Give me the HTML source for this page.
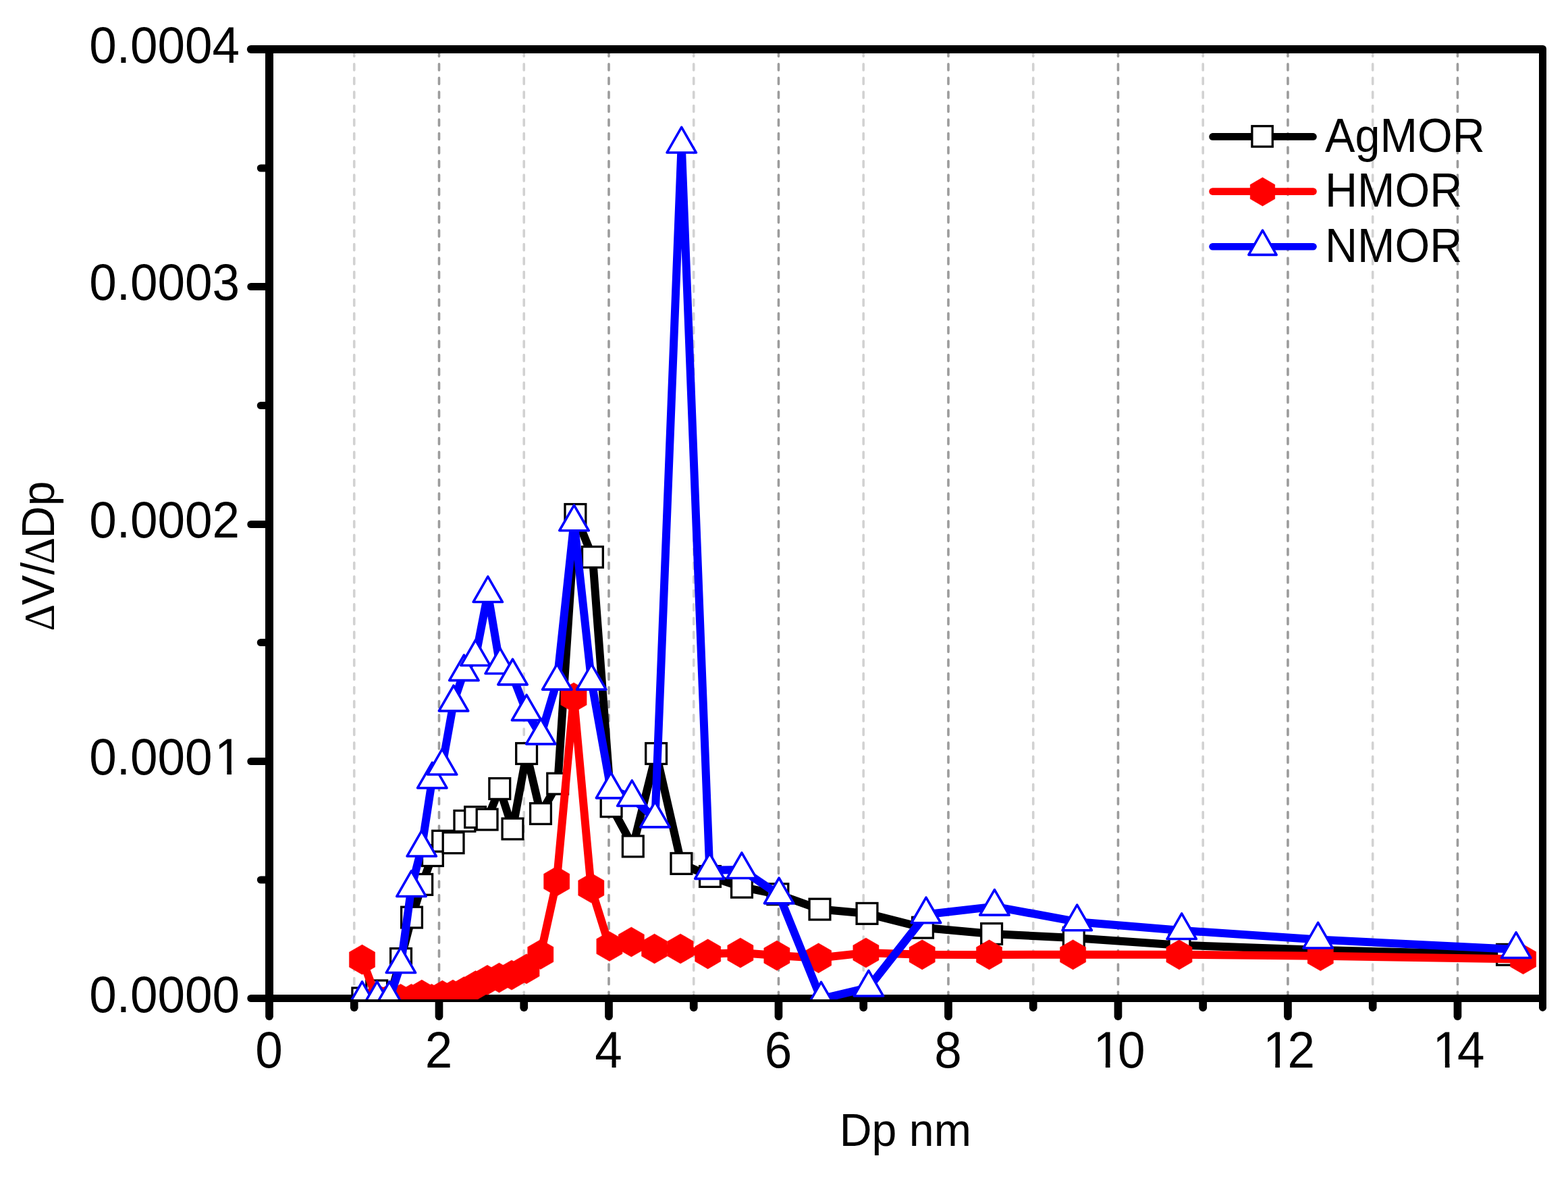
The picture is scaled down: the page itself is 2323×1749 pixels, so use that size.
<!DOCTYPE html>
<html lang="en">
<head>
<meta charset="utf-8">
<title>Pore size distribution</title>
<style>
html,body{margin:0;padding:0;background:#fff;}
body{width:2323px;height:1749px;overflow:hidden;}
svg{display:block;}
text{font-family:"Liberation Sans",sans-serif;fill:#000;}
.tk{font-size:72px;}
.ti{font-size:66.3px;}
.lg{font-size:66.6px;}
.sy{font-family:"Liberation Serif",serif;font-size:61.5px;}
</style>
</head>
<body>
<svg width="2323" height="1749" viewBox="0 0 2323 1749">
<rect x="0" y="0" width="2323" height="1749" fill="#fff"/>
<defs><clipPath id="plot"><rect x="399" y="73" width="1886.2" height="1407"/></clipPath><clipPath id="cx1"><path d="M3 -60H85V5H41.6V-6.4H28.75V1H22.15V-6.4H3Z"/></clipPath><clipPath id="cy1"><path d="M-2 -60H225V-6.4H208.25V1H201.65V-6.4H182V5H-2Z"/></clipPath></defs>
<g fill="none" stroke-width="3.6" stroke-linecap="round" stroke-dasharray="9.1 11.41">
<line x1="524.75" y1="74.4" x2="524.75" y2="1478.7" stroke="#d2d2d2"/>
<line x1="650.49" y1="74.4" x2="650.49" y2="1478.7" stroke="#9c9c9c"/>
<line x1="776.24" y1="74.4" x2="776.24" y2="1478.7" stroke="#d2d2d2"/>
<line x1="901.99" y1="74.4" x2="901.99" y2="1478.7" stroke="#9c9c9c"/>
<line x1="1027.73" y1="74.4" x2="1027.73" y2="1478.7" stroke="#d2d2d2"/>
<line x1="1153.48" y1="74.4" x2="1153.48" y2="1478.7" stroke="#9c9c9c"/>
<line x1="1279.23" y1="74.4" x2="1279.23" y2="1478.7" stroke="#d2d2d2"/>
<line x1="1404.97" y1="74.4" x2="1404.97" y2="1478.7" stroke="#9c9c9c"/>
<line x1="1530.72" y1="74.4" x2="1530.72" y2="1478.7" stroke="#d2d2d2"/>
<line x1="1656.47" y1="74.4" x2="1656.47" y2="1478.7" stroke="#9c9c9c"/>
<line x1="1782.21" y1="74.4" x2="1782.21" y2="1478.7" stroke="#d2d2d2"/>
<line x1="1907.96" y1="74.4" x2="1907.96" y2="1478.7" stroke="#9c9c9c"/>
<line x1="2033.71" y1="74.4" x2="2033.71" y2="1478.7" stroke="#d2d2d2"/>
<line x1="2159.45" y1="74.4" x2="2159.45" y2="1478.7" stroke="#9c9c9c"/>
</g>
<g fill="none" stroke="#000" stroke-linecap="butt">
<line x1="399" y1="67" x2="399" y2="1484" stroke-width="12"/>
<line x1="393" y1="73" x2="2285.5" y2="73" stroke-width="12"/>
<line x1="2285.5" y1="72.5" x2="2285.5" y2="1484" stroke-width="11"/>
<line x1="393" y1="1478.5" x2="2291" y2="1478.5" stroke-width="11"/>
<circle cx="2285.5" cy="72.5" r="5.5" fill="#000" stroke="none"/>
</g>
<g fill="none" stroke="#000" stroke-linecap="round">
<line x1="399" y1="1478.5" x2="399" y2="1505.2" stroke-width="11.7"/>
<line x1="524.75" y1="1478.5" x2="524.75" y2="1492.2" stroke-width="11.7"/>
<line x1="650.49" y1="1478.5" x2="650.49" y2="1505.2" stroke-width="11.7"/>
<line x1="776.24" y1="1478.5" x2="776.24" y2="1492.2" stroke-width="11.7"/>
<line x1="901.99" y1="1478.5" x2="901.99" y2="1505.2" stroke-width="11.7"/>
<line x1="1027.73" y1="1478.5" x2="1027.73" y2="1492.2" stroke-width="11.7"/>
<line x1="1153.48" y1="1478.5" x2="1153.48" y2="1505.2" stroke-width="11.7"/>
<line x1="1279.23" y1="1478.5" x2="1279.23" y2="1492.2" stroke-width="11.7"/>
<line x1="1404.97" y1="1478.5" x2="1404.97" y2="1505.2" stroke-width="11.7"/>
<line x1="1530.72" y1="1478.5" x2="1530.72" y2="1492.2" stroke-width="11.7"/>
<line x1="1656.47" y1="1478.5" x2="1656.47" y2="1505.2" stroke-width="11.7"/>
<line x1="1782.21" y1="1478.5" x2="1782.21" y2="1492.2" stroke-width="11.7"/>
<line x1="1907.96" y1="1478.5" x2="1907.96" y2="1505.2" stroke-width="11.7"/>
<line x1="2033.71" y1="1478.5" x2="2033.71" y2="1492.2" stroke-width="11.7"/>
<line x1="2159.45" y1="1478.5" x2="2159.45" y2="1505.2" stroke-width="11.7"/>
<line x1="2285.5" y1="1478.5" x2="2285.5" y2="1492.2" stroke-width="11"/>
<line x1="399" y1="1478.5" x2="371.8" y2="1478.5" stroke-width="11"/>
<line x1="399" y1="1303" x2="386.3" y2="1303" stroke-width="11"/>
<line x1="399" y1="1127.5" x2="371.8" y2="1127.5" stroke-width="11"/>
<line x1="399" y1="951.5" x2="386.3" y2="951.5" stroke-width="11"/>
<line x1="399" y1="776.5" x2="371.8" y2="776.5" stroke-width="11"/>
<line x1="399" y1="600.5" x2="386.3" y2="600.5" stroke-width="11"/>
<line x1="399" y1="424.5" x2="371.8" y2="424.5" stroke-width="11"/>
<line x1="399" y1="249" x2="386.3" y2="249" stroke-width="11"/>
<line x1="399" y1="73" x2="371.8" y2="73" stroke-width="12"/>
</g>
<g clip-path="url(#plot)" stroke-linejoin="round">
<polyline fill="none" stroke="#000" stroke-width="12" stroke-linejoin="round" points="537.3,1478.4 558.2,1467.4 577,1479 594,1420 610,1358.6 625.2,1309.9 640.9,1267.1 656.1,1245.7 671.6,1248.2 688.4,1215.9 704.1,1210.2 721.6,1213.6 740.3,1168 759.5,1227.5 780.1,1116 801,1205 826.2,1160.6 852.4,762 877.9,825 905.6,1194.2 937.8,1253.4 972.1,1116 1009.4,1278.9 1052,1298 1099,1313.7 1152.4,1324.3 1214.5,1346.6 1284.5,1352.9 1367,1373.7 1469.1,1383 1590.8,1389 1747.5,1399.7 1955,1407 2233,1413.8"/>
<g fill="#fff" stroke="#000" stroke-width="3.3" stroke-linejoin="miter">
<rect x="521.9" y="1463" width="30.8" height="30.8"/>
<rect x="542.8" y="1452" width="30.8" height="30.8"/>
<rect x="561.6" y="1463.6" width="30.8" height="30.8"/>
<rect x="578.6" y="1404.6" width="30.8" height="30.8"/>
<rect x="594.6" y="1343.2" width="30.8" height="30.8"/>
<rect x="609.8" y="1294.5" width="30.8" height="30.8"/>
<rect x="625.5" y="1251.7" width="30.8" height="30.8"/>
<rect x="640.7" y="1230.3" width="30.8" height="30.8"/>
<rect x="656.2" y="1232.8" width="30.8" height="30.8"/>
<rect x="673" y="1200.5" width="30.8" height="30.8"/>
<rect x="688.7" y="1194.8" width="30.8" height="30.8"/>
<rect x="706.2" y="1198.2" width="30.8" height="30.8"/>
<rect x="724.9" y="1152.6" width="30.8" height="30.8"/>
<rect x="744.1" y="1212.1" width="30.8" height="30.8"/>
<rect x="764.7" y="1100.6" width="30.8" height="30.8"/>
<rect x="785.6" y="1189.6" width="30.8" height="30.8"/>
<rect x="810.8" y="1145.2" width="30.8" height="30.8"/>
<rect x="837" y="746.6" width="30.8" height="30.8"/>
<rect x="862.5" y="809.6" width="30.8" height="30.8"/>
<rect x="890.2" y="1178.8" width="30.8" height="30.8"/>
<rect x="922.4" y="1238" width="30.8" height="30.8"/>
<rect x="956.7" y="1100.6" width="30.8" height="30.8"/>
<rect x="994" y="1263.5" width="30.8" height="30.8"/>
<rect x="1036.6" y="1282.6" width="30.8" height="30.8"/>
<rect x="1083.6" y="1298.3" width="30.8" height="30.8"/>
<rect x="1137" y="1308.9" width="30.8" height="30.8"/>
<rect x="1199.1" y="1331.2" width="30.8" height="30.8"/>
<rect x="1269.1" y="1337.5" width="30.8" height="30.8"/>
<rect x="1351.6" y="1358.3" width="30.8" height="30.8"/>
<rect x="1453.7" y="1367.6" width="30.8" height="30.8"/>
<rect x="1575.4" y="1373.6" width="30.8" height="30.8"/>
<rect x="1732.1" y="1384.3" width="30.8" height="30.8"/>
<rect x="1939.6" y="1391.6" width="30.8" height="30.8"/>
<rect x="2217.6" y="1398.4" width="30.8" height="30.8"/>
</g>
<polyline fill="none" stroke="#f00" stroke-width="12" stroke-linejoin="round" points="536.5,1421.1 558.5,1479.3 576.9,1479.3 593.6,1479.3 609.4,1479.3 624.9,1473.2 639.5,1479.3 655.4,1474.1 671,1473.1 687.4,1468.6 704.5,1459.7 722,1451.3 739.5,1448 758,1444 780,1434.8 800.8,1413.5 824.7,1305.2 850,1033 875.8,1315 902.9,1401.5 935.3,1395 969.6,1405 1008.1,1405 1048.7,1412.8 1096.9,1411.1 1150.9,1415.1 1212.6,1418.8 1282.9,1411 1366.2,1413.8 1465.5,1413.9 1589.6,1413.8 1747,1413.8 1956.3,1415.7 2256.6,1420.6"/>
<g fill="#f00" stroke="#f00" stroke-width="0.4" stroke-linejoin="miter">
<polygon points="536.5,1399 555.64,1410.05 555.64,1432.15 536.5,1443.2 517.36,1432.15 517.36,1410.05"/>
<polygon points="558.5,1457.2 577.64,1468.25 577.64,1490.35 558.5,1501.4 539.36,1490.35 539.36,1468.25"/>
<polygon points="576.9,1457.2 596.04,1468.25 596.04,1490.35 576.9,1501.4 557.76,1490.35 557.76,1468.25"/>
<polygon points="593.6,1457.2 612.74,1468.25 612.74,1490.35 593.6,1501.4 574.46,1490.35 574.46,1468.25"/>
<polygon points="609.4,1457.2 628.54,1468.25 628.54,1490.35 609.4,1501.4 590.26,1490.35 590.26,1468.25"/>
<polygon points="624.9,1451.1 644.04,1462.15 644.04,1484.25 624.9,1495.3 605.76,1484.25 605.76,1462.15"/>
<polygon points="639.5,1457.2 658.64,1468.25 658.64,1490.35 639.5,1501.4 620.36,1490.35 620.36,1468.25"/>
<polygon points="655.4,1452 674.54,1463.05 674.54,1485.15 655.4,1496.2 636.26,1485.15 636.26,1463.05"/>
<polygon points="671,1451 690.14,1462.05 690.14,1484.15 671,1495.2 651.86,1484.15 651.86,1462.05"/>
<polygon points="687.4,1446.5 706.54,1457.55 706.54,1479.65 687.4,1490.7 668.26,1479.65 668.26,1457.55"/>
<polygon points="704.5,1437.6 723.64,1448.65 723.64,1470.75 704.5,1481.8 685.36,1470.75 685.36,1448.65"/>
<polygon points="722,1429.2 741.14,1440.25 741.14,1462.35 722,1473.4 702.86,1462.35 702.86,1440.25"/>
<polygon points="739.5,1425.9 758.64,1436.95 758.64,1459.05 739.5,1470.1 720.36,1459.05 720.36,1436.95"/>
<polygon points="758,1421.9 777.14,1432.95 777.14,1455.05 758,1466.1 738.86,1455.05 738.86,1432.95"/>
<polygon points="780,1412.7 799.14,1423.75 799.14,1445.85 780,1456.9 760.86,1445.85 760.86,1423.75"/>
<polygon points="800.8,1391.4 819.94,1402.45 819.94,1424.55 800.8,1435.6 781.66,1424.55 781.66,1402.45"/>
<polygon points="824.7,1283.1 843.84,1294.15 843.84,1316.25 824.7,1327.3 805.56,1316.25 805.56,1294.15"/>
<polygon points="850,1010.9 869.14,1021.95 869.14,1044.05 850,1055.1 830.86,1044.05 830.86,1021.95"/>
<polygon points="875.8,1292.9 894.94,1303.95 894.94,1326.05 875.8,1337.1 856.66,1326.05 856.66,1303.95"/>
<polygon points="902.9,1379.4 922.04,1390.45 922.04,1412.55 902.9,1423.6 883.76,1412.55 883.76,1390.45"/>
<polygon points="935.3,1372.9 954.44,1383.95 954.44,1406.05 935.3,1417.1 916.16,1406.05 916.16,1383.95"/>
<polygon points="969.6,1382.9 988.74,1393.95 988.74,1416.05 969.6,1427.1 950.46,1416.05 950.46,1393.95"/>
<polygon points="1008.1,1382.9 1027.24,1393.95 1027.24,1416.05 1008.1,1427.1 988.96,1416.05 988.96,1393.95"/>
<polygon points="1048.7,1390.7 1067.84,1401.75 1067.84,1423.85 1048.7,1434.9 1029.56,1423.85 1029.56,1401.75"/>
<polygon points="1096.9,1389 1116.04,1400.05 1116.04,1422.15 1096.9,1433.2 1077.76,1422.15 1077.76,1400.05"/>
<polygon points="1150.9,1393 1170.04,1404.05 1170.04,1426.15 1150.9,1437.2 1131.76,1426.15 1131.76,1404.05"/>
<polygon points="1212.6,1396.7 1231.74,1407.75 1231.74,1429.85 1212.6,1440.9 1193.46,1429.85 1193.46,1407.75"/>
<polygon points="1282.9,1388.9 1302.04,1399.95 1302.04,1422.05 1282.9,1433.1 1263.76,1422.05 1263.76,1399.95"/>
<polygon points="1366.2,1391.7 1385.34,1402.75 1385.34,1424.85 1366.2,1435.9 1347.06,1424.85 1347.06,1402.75"/>
<polygon points="1465.5,1391.8 1484.64,1402.85 1484.64,1424.95 1465.5,1436 1446.36,1424.95 1446.36,1402.85"/>
<polygon points="1589.6,1391.7 1608.74,1402.75 1608.74,1424.85 1589.6,1435.9 1570.46,1424.85 1570.46,1402.75"/>
<polygon points="1747,1391.7 1766.14,1402.75 1766.14,1424.85 1747,1435.9 1727.86,1424.85 1727.86,1402.75"/>
<polygon points="1956.3,1393.6 1975.44,1404.65 1975.44,1426.75 1956.3,1437.8 1937.16,1426.75 1937.16,1404.65"/>
<polygon points="2256.6,1398.5 2275.74,1409.55 2275.74,1431.65 2256.6,1442.7 2237.46,1431.65 2237.46,1409.55"/>
</g>
<polyline fill="none" stroke="#00f" stroke-width="12" stroke-linejoin="round" points="536.5,1479 558.6,1478.6 576.9,1479 593.9,1428 609.4,1315 624.7,1255.5 640.3,1154.4 655.1,1134.5 672,1040.3 687.4,995.1 704.5,973 722.8,879 740.7,985 759.5,1001.3 780.1,1054.1 801.2,1089.3 825.3,1008.6 850.5,773.2 876.2,1008.6 905,1169.3 936.3,1181 970.5,1212.3 1009.7,213.5 1051.3,1288.8 1098.9,1287.9 1154.1,1325.3 1216.5,1479.4 1286.9,1462.5 1372,1354.2 1473.4,1342.6 1595.7,1365.2 1750.7,1378 1952.7,1391.5 2246.1,1406"/>
<g fill="#fff" stroke="#00f" stroke-width="3.6" stroke-linejoin="round">
<polygon points="536.5,1453.93 558.2,1491.53 514.8,1491.53"/>
<polygon points="558.6,1453.53 580.3,1491.13 536.9,1491.13"/>
<polygon points="576.9,1453.93 598.6,1491.53 555.2,1491.53"/>
<polygon points="593.9,1402.93 615.6,1440.53 572.2,1440.53"/>
<polygon points="609.4,1289.93 631.1,1327.53 587.7,1327.53"/>
<polygon points="624.7,1230.43 646.4,1268.03 603,1268.03"/>
<polygon points="640.3,1129.33 662,1166.93 618.6,1166.93"/>
<polygon points="655.1,1109.43 676.8,1147.03 633.4,1147.03"/>
<polygon points="672,1015.23 693.7,1052.83 650.3,1052.83"/>
<polygon points="687.4,970.03 709.1,1007.63 665.7,1007.63"/>
<polygon points="704.5,947.93 726.2,985.53 682.8,985.53"/>
<polygon points="722.8,853.93 744.5,891.53 701.1,891.53"/>
<polygon points="740.7,959.93 762.4,997.53 719,997.53"/>
<polygon points="759.5,976.23 781.2,1013.83 737.8,1013.83"/>
<polygon points="780.1,1029.03 801.8,1066.63 758.4,1066.63"/>
<polygon points="801.2,1064.23 822.9,1101.83 779.5,1101.83"/>
<polygon points="825.3,983.53 847,1021.13 803.6,1021.13"/>
<polygon points="850.5,748.13 872.2,785.73 828.8,785.73"/>
<polygon points="876.2,983.53 897.9,1021.13 854.5,1021.13"/>
<polygon points="905,1144.23 926.7,1181.83 883.3,1181.83"/>
<polygon points="936.3,1155.93 958,1193.53 914.6,1193.53"/>
<polygon points="970.5,1187.23 992.2,1224.83 948.8,1224.83"/>
<polygon points="1009.7,188.43 1031.4,226.03 988,226.03"/>
<polygon points="1051.3,1263.73 1073,1301.33 1029.6,1301.33"/>
<polygon points="1098.9,1262.83 1120.6,1300.43 1077.2,1300.43"/>
<polygon points="1154.1,1300.23 1175.8,1337.83 1132.4,1337.83"/>
<polygon points="1216.5,1454.33 1238.2,1491.93 1194.8,1491.93"/>
<polygon points="1286.9,1437.43 1308.6,1475.03 1265.2,1475.03"/>
<polygon points="1372,1329.13 1393.7,1366.73 1350.3,1366.73"/>
<polygon points="1473.4,1317.53 1495.1,1355.13 1451.7,1355.13"/>
<polygon points="1595.7,1340.13 1617.4,1377.73 1574,1377.73"/>
<polygon points="1750.7,1352.93 1772.4,1390.53 1729,1390.53"/>
<polygon points="1952.7,1366.43 1974.4,1404.03 1931,1404.03"/>
<polygon points="2246.1,1380.93 2267.8,1418.53 2224.4,1418.53"/>
</g>
</g>
<line x1="1796.5" y1="202.4" x2="1945.5" y2="202.4" stroke="#000" stroke-width="10.6" stroke-linecap="round"/>
<g fill="#fff" stroke="#000" stroke-width="3.3" stroke-linejoin="miter"><rect x="1854.9" y="186.75" width="30.4" height="30.4"/></g>
<line x1="1796.5" y1="283.6" x2="1945.5" y2="283.6" stroke="#f00" stroke-width="10.6" stroke-linecap="round"/>
<g fill="#f00" stroke="#f00" stroke-width="0.4" stroke-linejoin="miter"><polygon points="1870.5,262.8 1888.86,273.4 1888.86,294.6 1870.5,305.2 1852.14,294.6 1852.14,273.4"/></g>
<line x1="1796.5" y1="365.3" x2="1945.5" y2="365.3" stroke="#00f" stroke-width="10.6" stroke-linecap="round"/>
<g fill="#fff" stroke="#00f" stroke-width="3.6" stroke-linejoin="round"><polygon points="1870.5,341.17 1891.15,377.37 1849.85,377.37"/></g>
<text class="lg" text-anchor="start" transform="translate(1963 225) scale(1 1.05)">AgMOR</text>
<text class="lg" text-anchor="start" transform="translate(1963 306) scale(1 1.05)">HMOR</text>
<text class="lg" text-anchor="start" transform="translate(1963 388) scale(1 1.05)">NMOR</text>
<text class="tk" text-anchor="end" transform="translate(355.1 1498.7) scale(1.012 1.05)">0.0000</text>
<text class="tk" text-anchor="start" transform="translate(132.22 1147.28) scale(1.012 1.05)" clip-path="url(#cy1)">0.000<tspan x="183.65">1</tspan></text>
<text class="tk" text-anchor="end" transform="translate(355.1 795.85) scale(1.012 1.05)">0.0002</text>
<text class="tk" text-anchor="end" transform="translate(355.1 444.42) scale(1.012 1.05)">0.0003</text>
<text class="tk" text-anchor="end" transform="translate(355.1 93) scale(1.012 1.05)">0.0004</text>
<text class="tk" text-anchor="middle" transform="translate(398.5 1581) scale(1.012 1.05)">0</text>
<text class="tk" text-anchor="middle" transform="translate(649.99 1581) scale(1.012 1.05)">2</text>
<text class="tk" text-anchor="middle" transform="translate(901.49 1581) scale(1.012 1.05)">4</text>
<text class="tk" text-anchor="middle" transform="translate(1152.98 1581) scale(1.012 1.05)">6</text>
<text class="tk" text-anchor="middle" transform="translate(1404.47 1581) scale(1.012 1.05)">8</text>
<text class="tk" text-anchor="start" transform="translate(1615.44 1581) scale(1.012 1.05)" clip-path="url(#cx1)"><tspan x="4.15">1</tspan><tspan x="40.04">0</tspan></text>
<text class="tk" text-anchor="start" transform="translate(1866.94 1581) scale(1.012 1.05)" clip-path="url(#cx1)"><tspan x="4.15">1</tspan><tspan x="40.04">2</tspan></text>
<text class="tk" text-anchor="start" transform="translate(2118.43 1581) scale(1.012 1.05)" clip-path="url(#cx1)"><tspan x="4.15">1</tspan><tspan x="40.04">4</tspan></text>
<text class="ti" text-anchor="start" transform="translate(1243.7 1697) scale(1 1.03)">Dp nm</text>
<text class="ti" transform="translate(80 934) rotate(-90) scale(1 1.045)"><tspan class="sy" x="-0.6">Δ</tspan><tspan x="38">V</tspan><tspan x="82.7">/</tspan><tspan class="sy" x="98.6">Δ</tspan><tspan x="136.6">D</tspan><tspan x="184.7">p</tspan></text>
</svg>
</body>
</html>
